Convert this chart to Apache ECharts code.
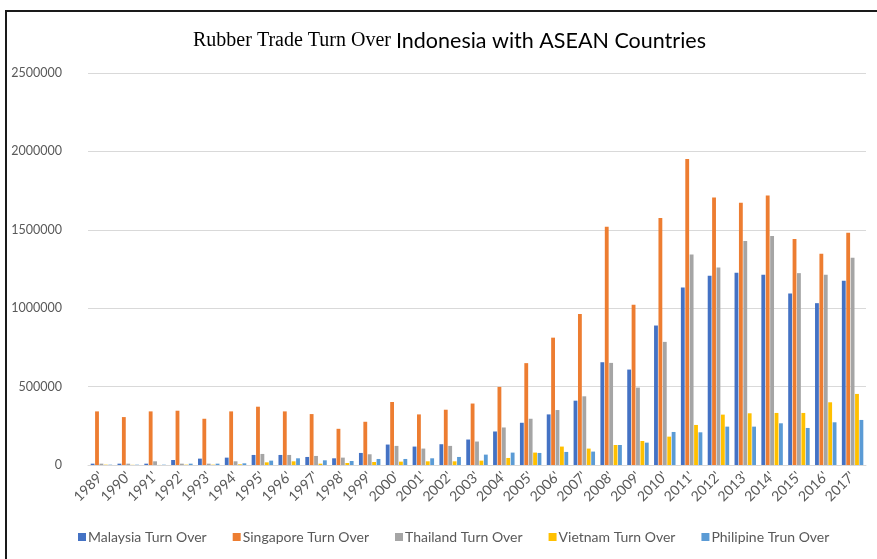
<!DOCTYPE html>
<html>
<head>
<meta charset="utf-8">
<script src="https://cdn.jsdelivr.net/npm/echarts@6/dist/echarts.min.js"></script>
<style>
html,body{margin:0;padding:0;background:#fff;overflow:hidden;}
#frame{position:absolute;left:5px;top:10px;width:900px;height:600px;border:2px solid #1a1a1a;box-sizing:border-box;}
#chart{position:absolute;left:0;top:0;width:877px;height:559px;}
</style>
</head>
<body>
<div id="frame"></div>
<div id="chart"></div>
<script>
const years = ["1989'","1990'","1991'","1992'","1993'","1994'","1995'","1996'","1997'","1998'","1999'","2000'","2001'","2002'","2003'","2004'","2005'","2006'","2007'","2008'","2009'","2010'","2011'","2012'","2013'","2014'","2015'","2016'","2017'"];
const seriesNames = ["Malaysia Turn Over","Singapore Turn Over","Thailand Turn Over","Vietnam Turn Over","Philipine Trun Over"];
const malaysia = [8500,8500,8500,32000,40600,47000,64100,64100,51300,42700,76900,130400,117500,132500,162400,213700,269300,322700,410300,655400,608600,889500,1132100,1206600,1225700,1213000,1093800,1032100,1174700];
const singapore = [341900,305600,341900,346200,294900,341900,371800,341900,324800,230800,275700,401800,322700,352600,392000,497900,649600,812100,963800,1519400,1021400,1574700,1951400,1706700,1672600,1719400,1440700,1347000,1481100];
const thailand = [8500,8500,23500,8500,8500,23500,70500,64100,57700,47000,68400,121800,104700,121800,149600,239300,294900,350500,438100,651200,493700,785200,1342800,1259800,1427900,1459800,1223600,1213000,1321500];
const vietnam = [2000,1000,500,2000,2000,4300,17100,23500,8500,12800,19200,21400,23500,23500,27800,44900,79100,117500,104700,127700,153200,180900,255400,321300,329800,332000,332000,400000,453300];
const philipine = [2000,2000,2000,8500,8500,10700,27800,42700,29900,25600,38500,38500,42700,51300,66200,79100,76900,83300,85500,127700,142600,210700,208500,244700,244700,266000,236200,272400,287300];
const yTicks = [0,500000,1000000,1500000,2000000,2500000];

const colors = ['#4472C4','#ED7D31','#A5A5A5','#FFC000','#5B9BD5'];
const dataArr = [malaysia, singapore, thailand, vietnam, philipine];

const chart = echarts.init(document.getElementById('chart'));
chart.setOption({
  animation:false,
  color: colors,
  title:{
    text:'{a|Rubber Trade Turn Over }{b|Indonesia with ASEAN Countries}',
    left:188, top:25,
    textStyle:{
      fontWeight:'normal',
      rich:{
        a:{fontFamily:'Liberation Serif',fontSize:20,color:'#000',fontWeight:'normal'},
        b:{fontFamily:'Lato',fontSize:21.5,color:'#000',fontWeight:'normal'}
      }
    }
  },
  grid:{left:88,right:11,top:73,bottom:94,containLabel:false},
  legend:{
    bottom:10, left:73,
    itemWidth:8,itemHeight:8,itemGap:26,icon:'rect',
    textStyle:{fontFamily:'Lato',fontSize:14,color:'#595959',padding:[0,0,0,-3]},
    data:seriesNames
  },
  xAxis:{
    type:'category', data:years,
    axisLine:{lineStyle:{color:'#d9d9d9',width:1}},
    axisTick:{show:false},
    axisLabel:{rotate:45,interval:0,fontFamily:'Lato',fontSize:14,color:'#595959',margin:9}
  },
  yAxis:{
    type:'value', min:yTicks[0], max:yTicks[yTicks.length-1], interval:500000,
    axisLine:{show:false}, axisTick:{show:false},
    splitLine:{lineStyle:{color:'#d9d9d9',width:1}},
    axisLabel:{fontFamily:'Lato',fontSize:12.5,color:'#595959',margin:26,formatter:v=>String(v)}
  },
  series: seriesNames.map((n,i)=>({
    name:n, type:'bar', data:dataArr[i],
    barGap:'15%', barCategoryGap:'20%'
  }))
});
</script>
</body>
</html>
